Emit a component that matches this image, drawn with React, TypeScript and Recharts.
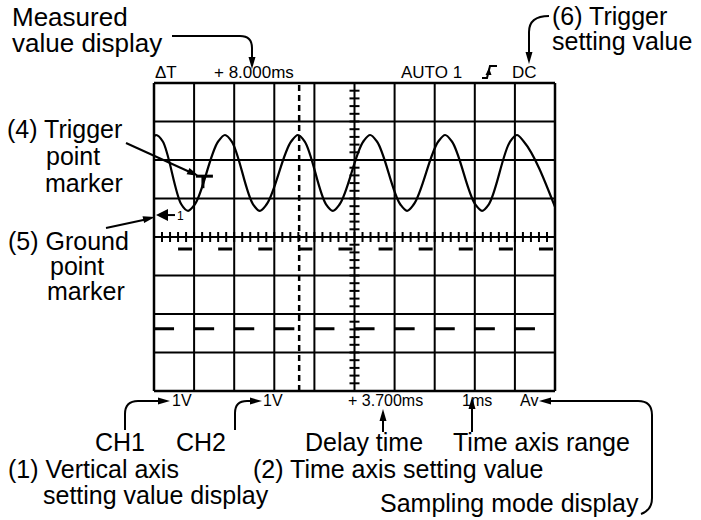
import React from 'react';
import { ComposedChart, Line, Scatter, XAxis, YAxis, ReferenceLine } from 'recharts';

// screen is 10 x 8 divisions, centre at (5, 0)
const X_GRID = [0, 1, 2, 3, 4, 5, 6, 7, 8, 9, 10];
const Y_GRID = [-4, -3, -2, -1, 0, 1, 2, 3, 4];
const X_MINOR = Array.from({ length: 49 }, (_, i) => (i + 1) * 0.2);
const Y_MINOR = Array.from({ length: 39 }, (_, i) => -4 + (i + 1) * 0.2);

// CH1 trace (time in div, level in div)
const ch1Time = [0, 0.05, 0.22, 0.68, 0.85, 1.02, 1.6, 1.77, 1.94, 2.47, 2.64, 2.81, 3.42, 3.59, 3.76, 4.29, 4.46, 4.63, 5.22, 5.39, 5.56, 6.14, 6.31, 6.48, 7.09, 7.26, 7.43, 8.01, 8.18, 8.35, 8.88, 9.05, 9.22, 10];
const ch1Level = [2.6, 2.65, 2.48, 0.85, 0.68, 0.85, 2.48, 2.65, 2.48, 0.85, 0.68, 0.85, 2.48, 2.65, 2.48, 0.85, 0.68, 0.85, 2.48, 2.65, 2.48, 0.85, 0.68, 0.85, 2.48, 2.65, 2.48, 0.85, 0.68, 0.85, 2.48, 2.65, 2.48, 0.78];

// CH2 trace, drawn as dashes
const ch2HighStart = [0.6, 1.6, 2.6, 3.6, 4.6, 5.6, 6.6, 7.6, 8.6, 9.6];
const ch2HighEnd = [0.95, 1.95, 2.95, 3.95, 4.95, 5.95, 6.95, 7.95, 8.95, 9.95];
const ch2High = -0.31;
const ch2LowStart = [0, 1, 2, 3, 4, 5, 6, 7, 8, 9];
const ch2LowEnd = [0.5, 1.5, 2.5, 3.5, 4.5, 5.5, 6.5, 7.5, 8.5, 9.5];
const ch2Low = -2.38;

const cursorX = 3.62;
const triggerPoint = { x: 1.22, y: 1.58 };
const groundPoint = { x: 0.05, y: 0.57 };

const ch1Data = ch1Time.map((x, i) => ({ x, y: ch1Level[i] }));
const dashes = (starts: number[], ends: number[], level: number) =>
  starts.flatMap((s, i) => [{ x: s, y: level }, { x: ends[i], y: level }, { x: ends[i], y: null }]);

const FONT = '"Liberation Sans", Arial, sans-serif';

const XTick = (p: any) => <line x1={p.cx} x2={p.cx} y1={p.cy - 5} y2={p.cy + 5} stroke="#000" strokeWidth={2} />;
const YTick = (p: any) => <line x1={p.cx - 5} x2={p.cx + 5} y1={p.cy} y2={p.cy} stroke="#000" strokeWidth={2} />;
const TriggerMark = (p: any) => (
  <g stroke="#000" strokeWidth={3}>
    <line x1={p.cx - 7} x2={p.cx + 10} y1={p.cy} y2={p.cy} />
    <line x1={p.cx} x2={p.cx} y1={p.cy} y2={p.cy + 12} />
  </g>
);
const GroundMark = (p: any) => (
  <g>
    <polygon points={`${p.cx},${p.cy} ${p.cx + 12},${p.cy - 6} ${p.cx + 12},${p.cy + 6}`} fill="#000" />
    <line x1={p.cx + 10} x2={p.cx + 19} y1={p.cy} y2={p.cy} stroke="#000" strokeWidth={2} />
    <text x={p.cx + 21} y={p.cy + 5} fontSize={12} fontFamily={FONT}>1</text>
  </g>
);

function head(x: number, y: number, angle: number) {
  const a = (angle * Math.PI) / 180;
  const L = 12, w = 3.5;
  const bx = x - L * Math.cos(a), by = y - L * Math.sin(a);
  const px = -Math.sin(a) * w, py = Math.cos(a) * w;
  return <polygon points={`${x},${y} ${bx + px},${by + py} ${bx - px},${by - py}`} fill="#000" />;
}

const labels = [
  { t: 'Measured', x: 12, y: 26, s: 26 },
  { t: 'value display', x: 12, y: 52, s: 26 },
  { t: '(6) Trigger', x: 552, y: 25, s: 25 },
  { t: 'setting value', x: 552, y: 50, s: 25 },
  { t: 'ΔT', x: 155, y: 78, s: 17 },
  { t: '+ 8.000ms', x: 214, y: 78, s: 17 },
  { t: 'AUTO 1', x: 401, y: 78, s: 17 },
  { t: 'DC', x: 512, y: 78, s: 17 },
  { t: '(4) Trigger', x: 7, y: 138, s: 25 },
  { t: 'point', x: 46, y: 165, s: 25 },
  { t: 'marker', x: 45, y: 192, s: 25 },
  { t: '(5) Ground', x: 8, y: 250, s: 25 },
  { t: 'point', x: 50, y: 275, s: 25 },
  { t: 'marker', x: 47, y: 300, s: 25 },
  { t: '1V', x: 172, y: 406, s: 16 },
  { t: '1V', x: 263, y: 406, s: 16 },
  { t: '+ 3.700ms', x: 348, y: 406, s: 16 },
  { t: '1ms', x: 462, y: 406, s: 16 },
  { t: 'Av', x: 520, y: 406, s: 16 },
  { t: 'CH1', x: 95, y: 451, s: 25 },
  { t: 'CH2', x: 176, y: 451, s: 25 },
  { t: 'Delay time', x: 305, y: 451, s: 25 },
  { t: 'Time axis range', x: 453, y: 451, s: 25 },
  { t: '(1) Vertical axis', x: 8, y: 478, s: 25 },
  { t: '(2) Time axis setting value', x: 253, y: 478, s: 25 },
  { t: 'setting value display', x: 43, y: 504, s: 25 },
  { t: 'Sampling mode display', x: 380, y: 512, s: 25 },
];

function Annotations() {
  const ln = { stroke: '#000', strokeWidth: 2, fill: 'none' };
  return (
    <svg width={701} height={520} style={{ position: 'absolute', left: 0, top: 0, pointerEvents: 'none' }}>
      {labels.map((l, i) => (
        <text key={i} x={l.x} y={l.y} fontSize={l.s} fontFamily={FONT} fill="#000">{l.t}</text>
      ))}
      <path d="M172,36 L240,36 Q252,36 252,48 L252,60" {...ln} />
      {head(252, 69, 90)}
      <path d="M549,16 Q529,16 529,32 L529,56" {...ln} />
      {head(529, 64, 90)}
      <path d="M126,143 L192,173" {...ln} />
      {head(199, 176, 24)}
      <path d="M106,228 L148,219" {...ln} />
      {head(155, 217, -13)}
      <path d="M125,430 L125,414 Q125,401 138,401 L162,401" {...ln} />
      {head(170, 401, 0)}
      <path d="M235,430 L235,413 Q235,401 247,401 L255,401" {...ln} />
      {head(262, 401, 0)}
      <path d="M383,432 L383,416" {...ln} />
      {head(383, 409, -90)}
      <path d="M472,432 L472,404" {...ln} />
      {head(472, 397, -90)}
      <path d="M548,401 L638,401 Q652,401 652,415 L652,498 Q652,510 641,514" {...ln} />
      {head(539, 401, 180)}
      <path d="M482,78 L487,78 L490,66 L497,66" {...ln} />
      <polygon points="489,68 485.5,75 491.5,75" fill="#000" />
    </svg>
  );
}

export default function App() {
  return (
    <div style={{ position: 'absolute', left: 0, top: 0, width: 701, height: 520, background: '#fff' }}>
      <ComposedChart width={701} height={520} margin={{ top: 83, right: 146, bottom: 129, left: 154 }}>
        <XAxis type="number" dataKey="x" domain={[0, 10]} allowDataOverflow hide />
        <YAxis type="number" dataKey="y" domain={[-4, 4]} allowDataOverflow hide />
        {X_GRID.map((x) => (
          <ReferenceLine key={'gx' + x} x={x} stroke="#000" strokeWidth={x === 0 || x === 10 ? 2.5 : 2} />
        ))}
        {Y_GRID.map((y) => (
          <ReferenceLine key={'gy' + y} y={y} stroke="#000" strokeWidth={y === -4 || y === 4 ? 2.5 : 2} />
        ))}
        <ReferenceLine x={cursorX} stroke="#000" strokeWidth={2.5} strokeDasharray="6 4" />
        <Scatter data={X_MINOR.map((x) => ({ x, y: 0 }))} dataKey="y" shape={XTick} isAnimationActive={false} />
        <Scatter data={Y_MINOR.map((y) => ({ x: 5, y }))} dataKey="y" shape={YTick} isAnimationActive={false} />
        <Line data={ch1Data} dataKey="y" type="monotone" stroke="#000" strokeWidth={2.2} dot={false} isAnimationActive={false} />
        <Line data={dashes(ch2HighStart, ch2HighEnd, ch2High)} dataKey="y" type="linear" stroke="#000" strokeWidth={3} dot={false} connectNulls={false} isAnimationActive={false} />
        <Line data={dashes(ch2LowStart, ch2LowEnd, ch2Low)} dataKey="y" type="linear" stroke="#000" strokeWidth={3} dot={false} connectNulls={false} isAnimationActive={false} />
        <Scatter data={[triggerPoint]} dataKey="y" shape={TriggerMark} isAnimationActive={false} />
        <Scatter data={[groundPoint]} dataKey="y" shape={GroundMark} isAnimationActive={false} />
      </ComposedChart>
      <Annotations />
    </div>
  );
}
